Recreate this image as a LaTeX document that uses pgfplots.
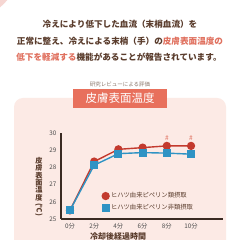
\documentclass[border=0pt]{standalone}
\usepackage{fontspec}
\setmainfont{Noto Sans CJK JP}
\newfontfamily\jp{Noto Sans CJK JP}
\usepackage{pgfplots}
\pgfplotsset{compat=1.18}
\definecolor{brn}{HTML}{5A3C2C}
\definecolor{hl}{HTML}{E0705E}
\definecolor{pan}{HTML}{FCEAE5}
\definecolor{tbox}{HTML}{E8705C}
\definecolor{cred}{HTML}{C33A2E}
\definecolor{cblue}{HTML}{2F93C4}
\definecolor{axc}{HTML}{3A2A22}
\definecolor{corner}{HTML}{F6D6D2}
\begin{document}
\begin{tikzpicture}[x=1pt,y=1pt]
\useasboundingbox (0,0) rectangle (240,240);
\fill[white] (0,0) rectangle (240,240);
\begin{scope}
\clip (0,0) rectangle (240,240);
\fill[corner] (-40,280) circle (62);
\fill[pan,rounded corners=9pt] (14,-20) rectangle (226,142);
\end{scope}
% top text
\node[font=\fontsize{8.6}{10}\selectfont\bfseries,text=brn] at (120,216) {冷えにより低下した血流（末梢血流）を};
\node[font=\fontsize{8.6}{10}\selectfont\bfseries,text=brn] at (120,199) {正常に整え、冷えによる末梢（手）の\textcolor{hl}{皮膚表面温度の}};
\node[font=\fontsize{8.6}{10}\selectfont\bfseries,text=brn] at (119,183) {\textcolor{hl}{低下を軽減する}機能があることが報告されています。};
\node[font=\fontsize{5.5}{6}\selectfont,text=brn!70] at (120,156) {研究レビューによる評価};
\fill[tbox] (73,132) rectangle (167,151);
\node[font=\fontsize{11.5}{12}\selectfont,text=white] at (120,141.5) {皮膚表面温度};
% y label
\node[font=\fontsize{7.2}{7.4}\selectfont\bfseries,text=brn,align=center,inner sep=0pt] at (39,61) {皮\\膚\\表\\面\\温\\度};
\node[font=\fontsize{7.2}{7.4}\selectfont\bfseries,text=brn,rotate=-90,inner sep=0pt] at (39,30.5) {(℃)};
\node[font=\fontsize{8}{9}\selectfont\bfseries,text=brn] at (118,3.5) {冷却後経過時間};
\begin{axis}[
  at={(61pt,21pt)}, anchor=south west,
  scale only axis, width=162pt, height=86pt,
  xmin=-0.74, xmax=12.64, ymin=25, ymax=30,
  axis x line*=bottom, axis y line*=left,
  axis line style={axc, line width=1.3pt},
  xtick={0,2,4,6,8,10},
  xticklabels={0分,2分,4分,6分,8分,10分},
  ytick={25,26,27,28,29,30},
  major tick length=0pt,
  /pgf/number format/assume math mode=true,
  tick label style={font=\fontsize{6.3}{7}\selectfont, text=black!70},
  yticklabel style={xshift=-1pt},
  xticklabel style={yshift=-1pt},
  clip=false,
  legend style={at={(0.235,0.355)}, anchor=north west, draw=none, fill=none,
    font=\fontsize{6.3}{7.5}\selectfont, text=brn, row sep=1pt,
    /tikz/every even column/.append style={column sep=1pt}},
  legend cell align=left,
  legend image code/.code={\draw[#1,only marks] plot coordinates {(0.1cm,0cm)};},
]
\addplot[cred, line width=1.4pt, mark=*, mark size=3.4pt, mark options={fill=cred, draw=cred}]
  coordinates {(0,25.5)(2,28.34)(4,29.05)(6,29.15)(8,29.25)(10,29.25)};
\addplot[cblue, line width=1.4pt, mark=square*, mark size=3.3pt, mark options={fill=cblue, draw=cblue}]
  coordinates {(0,25.5)(2,28.13)(4,28.8)(6,28.86)(8,28.83)(10,28.77)};
\legend{ヒハツ由来ピペリン類摂取,ヒハツ由来ピペリン非類摂取}
\node[font=\fontsize{6.5}{7}\selectfont, text=hl] at (axis cs:8,29.72) {\#};
\node[font=\fontsize{6.5}{7}\selectfont, text=hl] at (axis cs:10,29.72) {\#};
\end{axis}
\end{tikzpicture}
\end{document}
